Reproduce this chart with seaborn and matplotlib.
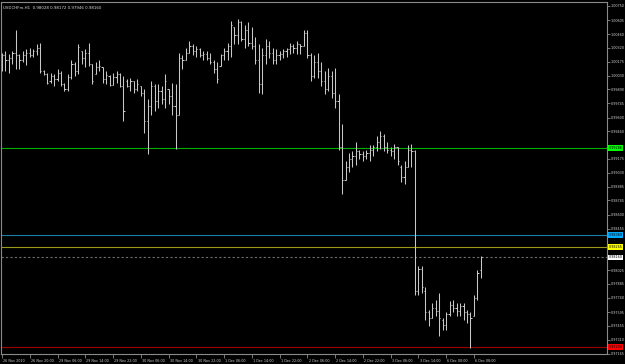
import matplotlib
matplotlib.use("Agg")
import matplotlib.pyplot as plt
import matplotlib.transforms as mtransforms
import numpy as np
import pandas as pd
import seaborn as sns

# ---------------- data ----------------
title_text = "USDCHFm,H1  0.98028 0.98172 0.97946 0.98160"

opens = [
    1.0017, 1.0024, 1.0019, 1.0021, 1.0027, 1.0024, 1.0019, 1.0024, 1.0027, 1.0024,
    1.0029, 1.0032, 1.0008, 1.0005, 0.9998, 1.0003, 1.0000, 1.0006, 0.9995, 0.9989,
    1.0002, 1.0015, 1.0008, 1.0029, 1.0021, 1.0027, 1.0015, 1.0005, 1.0012, 1.0012,
    1.0000, 1.0003, 0.9994, 1.0002, 1.0005, 0.9993, 0.9998, 0.9993, 0.9998, 0.9989,
    0.9993, 0.9985, 0.9956, 0.9972, 0.9993, 0.9977, 0.9987, 0.9979, 0.9989, 0.9982,
    0.9972, 0.9963, 1.0021, 1.0019, 1.0027, 1.0034, 1.0029, 1.0031, 1.0024, 1.0026,
    1.0021, 1.0017, 1.0010, 1.0013, 1.0024, 1.0029, 1.0034, 1.0053, 1.0045, 1.0058,
    1.0041, 1.0050, 1.0037, 1.0034, 1.0019, 0.9995, 1.0024, 1.0034, 1.0027, 1.0019,
    1.0024, 1.0026, 1.0029, 1.0031, 1.0034, 1.0032, 1.0036, 1.0034, 1.0047, 1.0024,
    1.0003, 1.0017, 1.0008, 0.9998, 0.9989, 1.0003, 0.9985, 0.9977, 0.9930, 0.9896,
    0.9909, 0.9917, 0.9920, 0.9925, 0.9922, 0.9920, 0.9923, 0.9927, 0.9930, 0.9935,
    0.9941, 0.9930, 0.9927, 0.9925, 0.9930, 0.9909, 0.9899, 0.9909, 0.9927, 0.9925,
    0.9781, 0.9804, 0.9781, 0.9759, 0.9753, 0.9764, 0.9761, 0.9751, 0.9746, 0.9757,
    0.9767, 0.9764, 0.9761, 0.9766, 0.9759, 0.9757, 0.9755, 0.9774, 0.98028,
]
highs = [
    1.0027, 1.0029, 1.0026, 1.0029, 1.0050, 1.0026, 1.0029, 1.0031, 1.0032, 1.0031,
    1.0036, 1.0037, 1.0009, 1.0006, 1.0006, 1.0005, 1.0010, 1.0008, 0.9996, 1.0005,
    1.0019, 1.0017, 1.0036, 1.0029, 1.0031, 1.0037, 1.0015, 1.0017, 1.0019, 1.0012,
    1.0008, 1.0004, 1.0006, 1.0008, 1.0006, 1.0003, 1.0000, 1.0001, 0.9998, 1.0000,
    0.9993, 0.9989, 0.9979, 0.9998, 0.9995, 0.9995, 0.9993, 1.0005, 0.9989, 0.9996,
    0.9995, 1.0027, 1.0024, 1.0032, 1.0039, 1.0036, 1.0034, 1.0032, 1.0029, 1.0029,
    1.0027, 1.0019, 1.0017, 1.0026, 1.0032, 1.0037, 1.0060, 1.0053, 1.0062, 1.0060,
    1.0055, 1.0058, 1.0053, 1.0043, 1.0036, 1.0032, 1.0041, 1.0039, 1.0032, 1.0031,
    1.0029, 1.0031, 1.0032, 1.0037, 1.0036, 1.0039, 1.0036, 1.0050, 1.0050, 1.0027,
    1.0024, 1.0027, 1.0017, 1.0008, 1.0011, 1.0008, 1.0011, 0.9984, 0.9953, 0.9915,
    0.9923, 0.9925, 0.9935, 0.9927, 0.9925, 0.9927, 0.9932, 0.9932, 0.9941, 0.9946,
    0.9943, 0.9935, 0.9930, 0.9933, 0.9930, 0.9911, 0.9915, 0.9932, 0.9933, 0.9927,
    0.9807, 0.9807, 0.9785, 0.9762, 0.9769, 0.9772, 0.9779, 0.9753, 0.9759, 0.9771,
    0.9772, 0.9769, 0.9769, 0.9769, 0.9762, 0.9759, 0.9777, 0.9803, 0.98172,
]
lows = [
    1.0008, 1.0008, 1.0006, 1.0015, 1.0010, 1.0010, 1.0017, 1.0014, 1.0022, 1.0022,
    1.0024, 1.0006, 1.0004, 0.9995, 0.9996, 0.9993, 0.9998, 0.9993, 0.9987, 0.9987,
    1.0000, 1.0003, 1.0005, 1.0015, 1.0012, 1.0013, 0.9995, 1.0005, 1.0008, 0.9996,
    0.9995, 0.9992, 0.9994, 0.9996, 0.9991, 0.9956, 0.9991, 0.9987, 0.9985, 0.9987,
    0.9982, 0.9944, 0.9922, 0.9963, 0.9967, 0.9970, 0.9974, 0.9970, 0.9974, 0.9963,
    0.9928, 0.9963, 1.0010, 1.0019, 1.0027, 1.0024, 1.0022, 1.0022, 1.0019, 1.0019,
    1.0015, 1.0006, 0.9996, 1.0013, 1.0019, 1.0019, 1.0022, 1.0036, 1.0036, 1.0039,
    1.0032, 1.0034, 1.0031, 1.0015, 0.9985, 0.9984, 1.0015, 1.0021, 1.0015, 1.0015,
    1.0019, 1.0021, 1.0022, 1.0026, 1.0027, 1.0026, 1.0026, 1.0034, 1.0021, 0.9998,
    1.0001, 1.0001, 0.9993, 0.9984, 0.9987, 0.9980, 0.9970, 0.9927, 0.9881, 0.9896,
    0.9904, 0.9909, 0.9911, 0.9917, 0.9915, 0.9917, 0.9915, 0.9920, 0.9925, 0.9928,
    0.9925, 0.9923, 0.9920, 0.9917, 0.9911, 0.9894, 0.9891, 0.9909, 0.9909, 0.9777,
    0.9777, 0.9779, 0.9751, 0.9745, 0.9753, 0.9755, 0.9735, 0.9741, 0.9741, 0.9755,
    0.9759, 0.9755, 0.9755, 0.9751, 0.9748, 0.9722, 0.9755, 0.9772, 0.97946,
]
closes = [
    1.0024, 1.0019, 1.0021, 1.0027, 1.0024, 1.0019, 1.0024, 1.0027, 1.0024, 1.0029,
    1.0032, 1.0008, 1.0005, 0.9996, 1.0003, 1.0000, 1.0006, 0.9995, 0.9989, 1.0002,
    1.0015, 1.0008, 1.0033, 1.0021, 1.0027, 1.0015, 0.9998, 1.0012, 1.0013, 1.0000,
    1.0004, 0.9994, 1.0002, 1.0005, 0.9993, 0.9967, 0.9993, 0.9998, 0.9989, 0.9995,
    0.9985, 0.9956, 0.9972, 0.9993, 0.9977, 0.9987, 0.9979, 0.9998, 0.9982, 0.9972,
    0.9963, 1.0021, 1.0019, 1.0027, 1.0034, 1.0029, 1.0031, 1.0024, 1.0026, 1.0021,
    1.0017, 1.0010, 1.0000, 1.0024, 1.0029, 1.0034, 1.0055, 1.0045, 1.0058, 1.0041,
    1.0050, 1.0037, 1.0034, 1.0019, 0.9995, 1.0024, 1.0034, 1.0027, 1.0019, 1.0024,
    1.0026, 1.0029, 1.0031, 1.0034, 1.0032, 1.0036, 1.0034, 1.0047, 1.0024, 1.0003,
    1.0017, 1.0008, 0.9998, 0.9989, 1.0003, 0.9985, 0.9977, 0.9930, 0.9896, 0.9909,
    0.9917, 0.9920, 0.9925, 0.9922, 0.9920, 0.9923, 0.9927, 0.9930, 0.9935, 0.9941,
    0.9930, 0.9927, 0.9925, 0.9930, 0.9915, 0.9899, 0.9909, 0.9927, 0.9925, 0.9781,
    0.9804, 0.9785, 0.9759, 0.9753, 0.9764, 0.9761, 0.9753, 0.9746, 0.9757, 0.9767,
    0.9764, 0.9761, 0.9766, 0.9759, 0.9757, 0.9753, 0.9774, 0.9800, 0.98160,
]

xtick_labels = ["26 Nov 2010", "26 Nov 20:00", "29 Nov 06:00", "29 Nov 14:00",
                "29 Nov 22:00", "30 Nov 06:00", "30 Nov 14:00", "30 Nov 22:00",
                "1 Dec 06:00", "1 Dec 14:00", "1 Dec 22:00", "2 Dec 06:00",
                "2 Dec 14:00", "2 Dec 22:00", "3 Dec 06:00", "3 Dec 14:00",
                "6 Dec 00:00", "6 Dec 08:00"]
xtick_bars = [0, 8, 16, 24, 32, 40, 48, 56, 64, 72, 80, 88, 96, 104, 112, 120, 128, 136]

ytick_values = [1.00750, 1.00605, 1.00460, 1.00320, 1.00175, 1.00030, 0.99890,
                0.99745, 0.99600, 0.99460, 0.99175, 0.99030, 0.98885, 0.98745,
                0.98600, 0.98455, 0.98025, 0.97885, 0.97740, 0.97595, 0.97455,
                0.97310, 0.97165]

level_values = [0.99286, 0.98389, 0.98265, 0.98160, 0.97234]
level_line_colors = ["#00b000", "#1a7fa8", "#9a9a1a", "#6e6e6e", "#a00000"]
level_box_colors = ["#00ff00", "#00aaff", "#ffff00", "#ffffff", "#ff0000"]
level_styles = ["-", "-", "-", (0, (2, 2)), "-"]

# ---------------- style ----------------
sns.set_theme(style="dark", rc={
    "axes.facecolor": "#000000",
    "figure.facecolor": "#000000",
    "axes.edgecolor": "#8a8a8a",
    "axes.linewidth": 0.8,
    "text.color": "#d0d0d0",
    "xtick.color": "#8a8a8a",
    "ytick.color": "#8a8a8a",
    "axes.grid": False,
})
plt.rcParams["font.family"] = ["DejaVu Sans"]

df = pd.DataFrame({"bar": np.arange(len(opens)), "open": opens, "high": highs,
                   "low": lows, "close": closes})

fig = plt.figure(figsize=(6.25, 3.64), dpi=100)
ax = fig.add_axes([1 / 625, 10 / 364, 606 / 625, 352 / 364])
ax.set_facecolor("#000000")

bar_color = "#c8c8c8"
lw = 0.75
ax.vlines(df["bar"], df["low"], df["high"], color=bar_color, lw=lw)
ax.hlines(df["open"], df["bar"] - 0.33, df["bar"], color=bar_color, lw=lw)
ax.hlines(df["close"], df["bar"], df["bar"] + 0.33, color=bar_color, lw=lw)

# horizontal levels
for v, lc, st in zip(level_values, level_line_colors, level_styles):
    ax.axhline(v, color=lc, lw=0.8, linestyle=st, zorder=1)

ax.set_xlim(-0.29, 174.35)
ax.set_ylim(0.97162, 1.00791)

fs = 2.45

# axes ticks
ax.yaxis.tick_right()
ax.set_yticks(ytick_values)
ax.set_yticklabels([f"{v:.5f}" for v in ytick_values])
ax.tick_params(axis="y", which="major", length=2, width=0.6, pad=0.8,
               labelsize=fs, labelcolor="#d0d0d0", right=True, left=False)

ax.set_xticks(xtick_bars)
ax.set_xticklabels(xtick_labels, ha="left")
ax.tick_params(axis="x", which="major", length=3, width=0.6, pad=0.5,
               labelsize=fs, labelcolor="#d0d0d0", bottom=True)
for lab in ax.get_xticklabels():
    lab.set_transform(lab.get_transform() + mtransforms.ScaledTranslation(1.2 / 100, 0, fig.dpi_scale_trans))

for s in ax.spines.values():
    s.set_color("#8a8a8a")
    s.set_linewidth(0.8)

# price labels on the right axis
trans = mtransforms.blended_transform_factory(ax.transAxes, ax.transData)
for v, bc in zip(level_values, level_box_colors):
    ax.text(1.0025, v, f"{v:.5f}", transform=trans, fontsize=fs, color="#000000",
            va="center", ha="left", clip_on=False,
            bbox=dict(boxstyle="square,pad=0.2", fc=bc, ec="none"))

ax.text(0.004, 0.99, title_text, transform=ax.transAxes, fontsize=2.9,
        color="#d8d8d8", va="top", ha="left")

fig.savefig("out.png", dpi=100, facecolor="#000000")
